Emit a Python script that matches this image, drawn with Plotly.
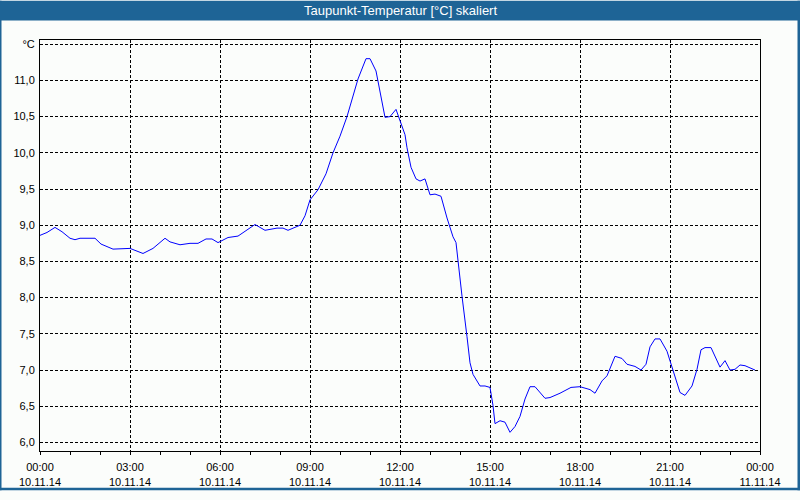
import plotly.graph_objects as go

# ---- data ----
times = ["00:00", "00:14", "00:30", "00:44", "01:00", "01:10", "01:20", "01:50", "02:02", "02:26",
         "03:00", "03:26", "03:46", "04:10", "04:20", "04:40", "05:00", "05:16", "05:32", "05:44",
         "05:56", "06:16", "06:36", "06:50", "07:10", "07:30", "07:54", "08:06", "08:16", "08:40",
         "08:50", "09:00", "09:16", "09:32", "09:46", "10:00", "10:14", "10:36", "10:52", "11:00",
         "11:12", "11:30", "11:40", "11:52", "12:00", "12:10", "12:14", "12:22", "12:32", "12:40",
         "12:50", "13:00", "13:10", "13:22", "13:34", "13:46", "13:52", "13:56", "14:04", "14:14",
         "14:20", "14:26", "14:40", "14:50", "15:00", "15:06", "15:10", "15:20", "15:30", "15:40",
         "15:50", "16:00", "16:10", "16:20", "16:30", "16:50", "17:00", "17:20", "17:42", "18:00",
         "18:20", "18:30", "18:44", "18:54", "19:10", "19:24", "19:34", "19:50", "20:02", "20:12",
         "20:20", "20:30", "20:40", "20:54", "21:06", "21:20", "21:30", "21:44", "21:54", "22:02",
         "22:10", "22:22", "22:40", "22:50", "23:00", "23:10", "23:20", "23:30", "23:50"]
values = [8.86, 8.90, 8.97, 8.91, 8.82, 8.80, 8.82, 8.82, 8.74, 8.67,
          8.68, 8.61, 8.68, 8.82, 8.77, 8.73, 8.75, 8.75, 8.81, 8.81,
          8.76, 8.83, 8.85, 8.92, 9.01, 8.93, 8.96, 8.96, 8.93, 9.00,
          9.13, 9.35, 9.49, 9.71, 10.00, 10.23, 10.50, 11.02, 11.30, 11.30,
          11.13, 10.49, 10.50, 10.60, 10.45, 10.25, 10.07, 9.80, 9.64, 9.61,
          9.64, 9.42, 9.43, 9.40, 9.10, 8.84, 8.76, 8.49, 8.02, 7.46,
          7.10, 6.94, 6.78, 6.78, 6.76, 6.51, 6.26, 6.30, 6.28, 6.14,
          6.22, 6.36, 6.60, 6.77, 6.77, 6.61, 6.62, 6.68, 6.76, 6.77,
          6.73, 6.68, 6.85, 6.92, 7.19, 7.16, 7.08, 7.05, 7.00, 7.08,
          7.32, 7.43, 7.43, 7.26, 7.00, 6.69, 6.65, 6.78, 7.01, 7.28,
          7.31, 7.31, 7.04, 7.13, 7.00, 7.01, 7.07, 7.06, 7.00]

x_tick_vals = ["2014-11-10 00:00", "2014-11-10 03:00", "2014-11-10 06:00", "2014-11-10 09:00",
               "2014-11-10 12:00", "2014-11-10 15:00", "2014-11-10 18:00", "2014-11-10 21:00",
               "2014-11-11 00:00"]
x_tick_text = ["00:00<br>10.11.14", "03:00<br>10.11.14", "06:00<br>10.11.14", "09:00<br>10.11.14",
               "12:00<br>10.11.14", "15:00<br>10.11.14", "18:00<br>10.11.14", "21:00<br>10.11.14",
               "00:00<br>11.11.14"]
y_tick_vals = [6.0, 6.5, 7.0, 7.5, 8.0, 8.5, 9.0, 9.5, 10.0, 10.5, 11.0, 11.5]
y_tick_text = ["6,0", "6,5", "7,0", "7,5", "8,0", "8,5", "9,0", "9,5", "10,0", "10,5", "11,0", "°C"]
title_text = "Taupunkt-Temperatur [°C] skaliert"

x = ["2014-11-10 " + t for t in times]

fig = go.Figure()
fig.add_trace(go.Scatter(x=x, y=values, mode="lines",
                         line=dict(color="#0000ff", width=1), showlegend=False))

BG = "#fbfdfb"
BLUE = "#1e6496"
W, H = 800, 500
L, R, T, B = 40, 40, 40, 40
pw, ph = W - L - R, H - T - B


def px_x(p):
    return (p - L) / pw


def px_y(p):
    return (H - B - p) / ph


shapes = [
    # title bar
    dict(type="rect", xref="paper", yref="paper", x0=px_x(0), x1=px_x(800), y0=px_y(20), y1=px_y(0),
         fillcolor=BLUE, line=dict(width=0), layer="above"),
    # window borders
    dict(type="rect", xref="paper", yref="paper", x0=px_x(0), x1=px_x(1.5), y0=px_y(500), y1=px_y(0),
         fillcolor=BLUE, line=dict(width=0), layer="above"),
    dict(type="rect", xref="paper", yref="paper", x0=px_x(797.5), x1=px_x(800), y0=px_y(500), y1=px_y(0),
         fillcolor=BLUE, line=dict(width=0), layer="above"),
    dict(type="rect", xref="paper", yref="paper", x0=px_x(0), x1=px_x(800), y0=px_y(500), y1=px_y(497.5),
         fillcolor=BLUE, line=dict(width=0), layer="above"),
]

font = dict(family="Liberation Sans, Arial, sans-serif", size=11, color="#000000")

fig.update_layout(
    width=W, height=H,
    margin=dict(l=L, r=R, t=T, b=B),
    paper_bgcolor=BG, plot_bgcolor=BG,
    font=font,
    shapes=shapes,
    annotations=[dict(text=title_text, xref="paper", yref="paper", x=0.5, y=px_y(10),
                      xanchor="center", yanchor="middle", showarrow=False,
                      font=dict(family="Liberation Sans, Arial, sans-serif", size=13, color="#ffffff"))],
    xaxis=dict(
        type="date",
        range=["2014-11-10 00:00", "2014-11-11 00:00"],
        tickmode="array", tickvals=x_tick_vals, ticktext=x_tick_text,
        showline=True, linecolor="#000000", linewidth=1, mirror=True,
        showgrid=True, gridcolor="#000000", gridwidth=1, griddash="3px,2px",
        ticks="outside", ticklen=3, tickcolor="#000000", tickwidth=1,
        ticklabelstandoff=3,
        minor=dict(dtick=3600000, ticks="outside", ticklen=3, tickcolor="#000000", tickwidth=1, showgrid=False),
        zeroline=False, fixedrange=True,
    ),
    yaxis=dict(
        range=[5.882, 11.558],
        tickmode="array", tickvals=y_tick_vals, ticktext=y_tick_text,
        showline=True, linecolor="#000000", linewidth=1, mirror=True,
        showgrid=True, gridcolor="#000000", gridwidth=1, griddash="3px,2px",
        ticks="", ticklabelstandoff=2, zeroline=False, fixedrange=True,
    ),
)

fig.write_html("out.html")
